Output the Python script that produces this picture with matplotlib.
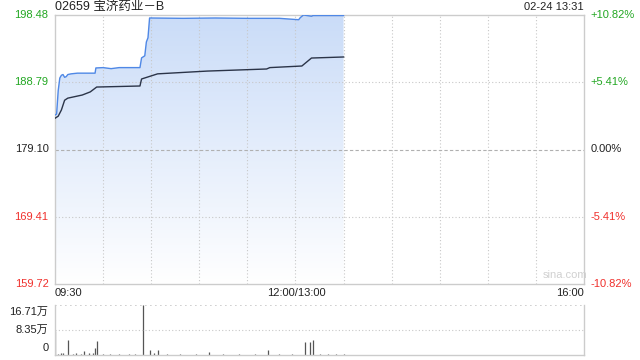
import matplotlib
matplotlib.use("Agg")
import matplotlib.pyplot as plt
import numpy as np
from matplotlib.colors import LinearSegmentedColormap

plt.rcParams['font.family'] = ['Liberation Sans', 'Noto Sans CJK SC', 'DejaVu Sans']

title = "02659 宝济药业－B"
stamp = "02-24 13:31"
prev_close = 179.10
price_ticks = [198.48, 188.79, 179.10, 169.41, 159.72]
pct_labels = ["+10.82%", "+5.41%", "0.00%", "-5.41%", "-10.82%"]
time_labels = ["09:30", "12:00/13:00", "16:00"]
vol_labels = ["16.71万", "8.35万", "0"]
vol_max = 16.71

# minutes since 09:30 (lunch break removed), price
price_t = [0, 1, 2, 3, 4, 5, 6, 7, 8, 10, 14, 20, 25, 25.5, 30, 35, 40, 53, 54, 56, 57, 58, 59,
           80, 100, 120, 140, 152, 153, 155, 160, 161, 170, 180]
price_v = [184.07, 184.2, 187.6, 189.4, 189.8, 189.9, 189.5, 189.6, 189.9, 190.0, 190.1, 190.1,
           190.1, 190.85, 190.9, 190.75, 190.9, 190.9, 192.3, 192.6, 194.6, 195.2, 198.05,
           198.0, 198.05, 198.0, 198.0, 197.8, 198.1, 198.48, 198.3, 198.4, 198.4, 198.4]

avg_t = [0, 2, 4, 6, 8, 17, 22, 26, 53, 54, 64, 95, 132, 134, 154, 160, 180]
avg_v = [183.6, 183.9, 184.8, 186.2, 186.5, 186.95, 187.4, 188.1, 188.25, 189.26, 190.0,
         190.4, 190.7, 190.9, 191.13, 192.28, 192.43]

# volume, 万 shares
vol_t = [0, 2, 4, 5, 8, 11, 13, 16, 18, 21, 24, 25, 26, 30, 34, 40, 46, 50, 55, 59, 62, 64,
         70, 78, 88, 96, 105, 115, 125, 133, 140, 148, 156, 159, 161, 165, 170, 175, 180]
vol_v = [8.0, 0.5, 0.8, 0.6, 5.0, 0.4, 0.6, 0.3, 1.2, 0.8, 0.6, 2.3, 4.6, 0.2, 0.3, 0.2, 0.2,
         0.3, 16.6, 1.6, 0.6, 1.6, 0.2, 0.2, 0.3, 1.0, 0.2, 0.2, 0.3, 1.7, 0.2, 0.3, 4.3, 4.4,
         4.9, 0.3, 0.2, 0.3, 0.2]

green = '#22a722'
red = '#f0302c'
grid_c = '#c8c8c8'
border_c = '#cccccc'
W, H = 640, 360

fig = plt.figure(figsize=(6.4, 3.6), dpi=100)
ax = fig.add_axes([55 / W, 1 - 284 / H, 529 / W, 269 / H])
ax.set_xlim(0, 330)
ax.set_ylim(159.72, 198.48)

# gradient fill under price line
cmap = LinearSegmentedColormap.from_list('fill', ['#ffffff', '#cadcf8'])
grad = np.linspace(0, 1, 256).reshape(-1, 1)
im = ax.imshow(grad, cmap=cmap, aspect='auto', origin='lower',
               extent=[0, 330, 159.72, 198.48], zorder=1)
poly = ax.fill_between(price_t, price_v, 159.72, color='none', lw=0)
im.set_clip_path(poly.get_paths()[0], transform=ax.transData)

for m in range(30, 330, 30):
    ax.axvline(m, color=grid_c, lw=0.8, ls=(0, (1, 2)), zorder=2)
for p in [188.79, 169.41]:
    ax.axhline(p, color=grid_c, lw=0.8, ls=(0, (1, 2)), zorder=2)
ax.axhline(prev_close, color='#b0b0b0', lw=0.8, ls=(0, (3, 2)), zorder=2)

ax.plot(price_t, price_v, color='#4f88e6', lw=1.0, zorder=4)
ax.plot(avg_t, avg_v, color='#2b3448', lw=1.0, zorder=4)

ax.set_xticks([])
ax.set_yticks([])
for s in ax.spines.values():
    s.set_color(border_c)
    s.set_linewidth(1)

label_cols = [green, green, '#222222', red, red]
for p, lab, c in zip(price_ticks, pct_labels, label_cols):
    ax.text(-4, p, "%.2f" % p, ha='right', va='center', fontsize=8, color=c)
    ax.text(334, p, lab, ha='left', va='center', fontsize=8, color=c)

fig.text(55 / W, 1 - 293 / H, time_labels[0], ha='left', va='center', fontsize=8, color='#222222')
fig.text(296 / W, 1 - 293 / H, time_labels[1], ha='center', va='center', fontsize=8, color='#222222')
fig.text(584 / W, 1 - 293 / H, time_labels[2], ha='right', va='center', fontsize=8, color='#222222')
fig.text(55 / W, 1 - 7 / H, title, ha='left', va='center', fontsize=9, color='#222222')
fig.text(584 / W, 1 - 7 / H, stamp, ha='right', va='center', fontsize=8, color='#222222')
ax.text(318, 160.3, "sina.com", ha='center', va='bottom', fontsize=8, color='#d0d0d0')

# volume panel
vax = fig.add_axes([55 / W, 1 - 355 / H, 529 / W, 50 / H])
vax.set_xlim(0, 330)
vax.set_ylim(0, vol_max)
vax.vlines(vol_t, 0, vol_v, color='#555555', lw=0.9)
vax.axhline(vol_max / 2, color=grid_c, lw=0.8, ls=(0, (1, 2)))
vax.axhline(vol_max, color=grid_c, lw=1.2, ls=(0, (1, 2)))
vax.set_xticks([])
vax.set_yticks([])
for k, s in vax.spines.items():
    s.set_color(border_c)
    s.set_linewidth(1)
vax.spines['top'].set_visible(False)
vax.text(-4, vol_max - 2.2, vol_labels[0], ha='right', va='center', fontsize=8, color='#222222')
vax.text(-4, vol_max / 2, vol_labels[1], ha='right', va='center', fontsize=8, color='#222222')
vax.text(-4, 2.2, vol_labels[2], ha='right', va='center', fontsize=8, color='#222222')

fig.savefig("out.png", dpi=100)
